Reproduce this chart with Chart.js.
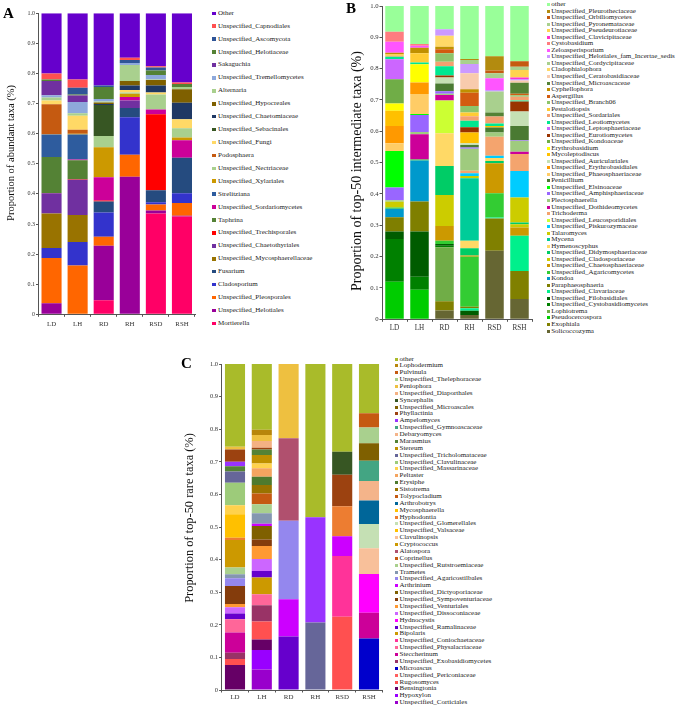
<!DOCTYPE html>
<html>
<head>
<meta charset="utf-8">
<title>Fungal taxa composition</title>
<script src="https://cdn.jsdelivr.net/npm/chart.js@4.4.1/dist/chart.umd.min.js"></script>
<style>
  body { margin: 0; width: 676px; height: 708px; position: relative; overflow: hidden; background: #fff;
         font-family: "Liberation Serif", "Times New Roman", serif; }
  canvas { position: absolute; }
  .panel-label { position: absolute; font-weight: bold; font-size: 15px; line-height: 1; color: #000; }
  .axis-title { position: absolute; white-space: nowrap; line-height: 1; color: #111;
                transform: translate(-50%, -50%) rotate(-90deg); }
  .legend-row { position: absolute; display: flex; align-items: center; white-space: nowrap; color: #222; }
  .legend-row span.box { display: inline-block; flex: none; }
  .legend-row span.txt { line-height: 1; }
</style>
</head>
<body>
<script>
// Samples (x categories), shared by all three panels
const samples = ["LD", "LH", "RD", "RH", "RSD", "RSH"];

// ---- Panel A: abundant taxa (listed bottom of stack -> top) ----
const abundantTaxa = ["Mortierella", "Unspecified_Helotiales", "Unspecified_Pleosporales", "Cladosporium", "Fusarium",
    "Unspecified_Mycosphaerellaceae", "Unspecified_Chaetothyriales", "Unspecified_Trechisporales", "Taphrina",
    "Unspecified_Sordariomycetes", "Strelitziana", "Unspecified_Xylariales", "Unspecified_Nectriaceae", "Podosphaera",
    "Unspecified_Fungi", "Unspecified_Sebacinales", "Unspecified_Chaetomiaceae", "Unspecified_Hypocreales", "Alternaria",
    "Unspecified_Tremellomycetes", "Sakaguchia", "Unspecified_Helotiaceae", "Unspecified_Ascomycota",
    "Unspecified_Capnodiales", "Other"];
const abundantColors = ["#FF0066", "#990099", "#FF6600", "#3333CC", "#254B7F", "#997300", "#7030A0", "#FF0000", "#548235",
    "#CC0099", "#2E5C9E", "#CC9900", "#A9D08E", "#C55A11", "#FFD966", "#375623", "#1F3864", "#7F6000", "#A9D08E",
    "#8EA9DB", "#7030A0", "#548235", "#2F5597", "#FF5050", "#6600CC"];
const abundantLD = [0, 0.037, 0.150, 0.033, 0, 0.115, 0.067, 0.001, 0.120, 0, 0.074, 0.001, 0, 0.100, 0.012, 0, 0, 0, 0.010, 0.008, 0.047, 0.005, 0, 0.020, 0.200];
const abundantLH = [0, 0, 0.162, 0.078, 0, 0.090, 0.117, 0.002, 0.063, 0.002, 0.083, 0.003, 0, 0.013, 0.047, 0, 0, 0, 0.008, 0.037, 0.022, 0.003, 0.023, 0.027, 0.220];
const abundantRD = [0.047, 0.181, 0.030, 0.080, 0.037, 0, 0, 0.003, 0, 0.077, 0, 0.100, 0.037, 0, 0, 0.103, 0.004, 0.005, 0.003, 0.008, 0, 0.040, 0.005, 0, 0.240];
const abundantRH = [0, 0.457, 0.073, 0.125, 0.030, 0, 0.025, 0, 0, 0.012, 0, 0.011, 0.004, 0, 0.008, 0, 0.015, 0.015, 0.053, 0.007, 0, 0, 0.010, 0.007, 0.148];
const abundantRSD = [0.335, 0.010, 0.020, 0.007, 0.040, 0, 0, 0.253, 0, 0.015, 0, 0, 0.050, 0, 0.007, 0, 0.023, 0.018, 0.002, 0.015, 0, 0.015, 0.010, 0.004, 0.176];
const abundantRSH = [0.325, 0.002, 0.043, 0.032, 0.118, 0, 0, 0, 0, 0.058, 0, 0.009, 0.031, 0, 0.030, 0, 0.055, 0.045, 0.007, 0, 0, 0.010, 0, 0.005, 0.230];

// ---- Panel B: top-50 intermediate taxa (bottom -> top) ----
const intermediateTaxa = ["Solicoccozyma", "Exophiala", "Pseudocercospora", "Lophiotrema",
    "Unspecified_Cystobasidiomycetes", "Unspecified_Filobasidiales", "Unspecified_Clavariaceae", "Paraphaeosphaeria",
    "Kondoa", "Unspecified_Agaricomycetes", "Unspecified_Chaetosphaeriaceae", "Unspecified_Cladosporiaceae",
    "Unspecified_Didymosphaeriaceae", "Hymenoscyphus", "Mycena", "Talaromyces", "Unspecified_Piskurozymaceae",
    "Unspecified_Leucosporidiales", "Trichoderma", "Unspecified_Dothideomycetes", "Plectosphaerella",
    "Unspecified_Amphisphaeriaceae", "Unspecified_Elsinoaceae", "Penicillium", "Unspecified_Phaeosphaeriaceae",
    "Unspecified_Erythrobasidiales", "Unspecified_Auriculariales", "Mycoleptodiscus", "Erythrobasidium",
    "Unspecified_Kondoaceae", "Unspecified_Eurotiomycetes", "Unspecified_Leptosphaeriaceae", "Unspecified_Leotiomycetes",
    "Unspecified_Sordariales", "Pestalotiopsis", "Unspecified_Branch06", "Aspergillus", "Cyphellophora",
    "Unspecified_Microascaceae", "Unspecified_Ceratobasidiaceae", "Cladophialophora", "Unspecified_Cordycipitaceae",
    "Unspecified_Helotiales_fam_Incertae_sedis", "Zeloasperisporium", "Cystobasidium", "Unspecified_Clavicipitaceae",
    "Unspecified_Pseudeurotiaceae", "Unspecified_Pyronemataceae", "Unspecified_Orbiliomycetes",
    "Unspecified_Pleurotheciaceae", "other"];
const intermediateColors = ["#666633", "#808000", "#00CC00", "#70AD47", "#008000", "#005C00", "#00F08C", "#7F7F00",
    "#0099CC", "#33CC33", "#CC9900", "#CCCC00", "#00CC66", "#FFD966", "#00CC99", "#CCCC00", "#00CCFF", "#CCFF33",
    "#F4A46E", "#CC0099", "#9FCB7E", "#9966FF", "#00FF00", "#4A7A32", "#FFCC66", "#FF9900", "#C5E0B4", "#FFC000",
    "#FFFF00", "#70AD47", "#993300", "#CC66FF", "#00E890", "#F4A070", "#FFCC33", "#8DC46A", "#D35C10", "#C09000",
    "#548235", "#F8CBAD", "#FFD966", "#A9D08E", "#CC99FF", "#FF55FF", "#FF7C80", "#FF33CC", "#FFD34D", "#A9D08E",
    "#C55A11", "#B38B0F", "#99FF99"];
const intermediateLD = [0, 0, 0.120, 0, 0.136, 0.024, 0, 0.046, 0.027, 0.004, 0, 0, 0, 0, 0, 0.018, 0, 0, 0, 0, 0.005,
    0.041, 0.116, 0, 0.025, 0.055, 0, 0.049, 0.023, 0.077, 0, 0.064, 0.008, 0.003, 0.005, 0, 0, 0.005, 0, 0, 0, 0, 0,
    0.035, 0.032, 0, 0, 0, 0, 0, 0.082];
const intermediateLH = [0, 0, 0.094, 0, 0.042, 0.144, 0, 0.096, 0.131, 0.003, 0, 0, 0, 0, 0, 0, 0, 0, 0, 0.081, 0.007,
    0.054, 0.003, 0, 0.064, 0.037, 0, 0, 0.058, 0, 0, 0, 0.006, 0, 0.029, 0, 0, 0.018, 0, 0, 0, 0, 0,
    0.006, 0.006, 0, 0, 0, 0, 0, 0.121];
const intermediateRD = [0.028, 0.030, 0, 0.172, 0.005, 0.005, 0, 0, 0, 0.011, 0.047, 0.099, 0.092, 0.105, 0, 0, 0, 0.104,
    0, 0.018, 0.004, 0.008, 0, 0.025, 0, 0, 0.019, 0, 0, 0, 0.006, 0, 0.030, 0.014, 0, 0.027, 0.013, 0.008, 0, 0, 0.035,
    0, 0.021, 0, 0, 0, 0, 0, 0, 0, 0.074];
const intermediateRH = [0.014, 0, 0, 0, 0, 0.013, 0.008, 0.005, 0, 0.160, 0.004, 0, 0.023, 0.024, 0.199, 0.007, 0.009, 0,
    0.008, 0, 0.070, 0.004, 0, 0.008, 0, 0, 0.006, 0.034, 0, 0, 0.017, 0, 0.021, 0.014, 0.012, 0.021, 0.042, 0.011, 0,
    0.051, 0, 0, 0.030, 0, 0, 0, 0, 0.013, 0, 0.003, 0.169];
const intermediateRSD = [0.219, 0.103, 0, 0, 0, 0, 0.003, 0, 0, 0.077, 0.096, 0, 0.007, 0.010, 0, 0, 0.007, 0, 0.061, 0,
    0.013, 0, 0, 0.016, 0, 0, 0, 0.005, 0, 0, 0, 0, 0.008, 0.022, 0, 0, 0, 0, 0.013, 0, 0, 0.067, 0.005, 0.037, 0, 0, 0,
    0.016, 0.009, 0.046, 0.160];
const intermediateRSH = [0.065, 0.089, 0, 0, 0, 0, 0.113, 0, 0, 0, 0.026, 0.010, 0.006, 0, 0, 0.080, 0.084, 0, 0.055,
    0.007, 0.035, 0.002, 0, 0.045, 0, 0, 0.046, 0, 0, 0, 0.032, 0, 0.003, 0.012, 0, 0.005, 0.005, 0, 0.035, 0.007, 0, 0,
    0.005, 0, 0, 0.005, 0.024, 0.010, 0.018, 0, 0.176];

// ---- Panel C: top-50 rare taxa (bottom -> top) ----
const rareTaxa = ["Unspecified_Corticiales", "Hypoxylon", "Bensingtonia", "Rugosomyces", "Unspecified_Periconiaceae",
    "Microascus", "Unspecified_Exobasidiomycetes", "Steccherinum", "Unspecified_Physalacriaceae",
    "Unspecified_Coniochaetaceae", "Bipolaris", "Unspecified_Ramalinaceae", "Hydnocystis", "Unspecified_Dissoconiaceae",
    "Unspecified_Venturiales", "Unspecified_Sympoventuriaceae", "Unspecified_Dictyoporiaceae", "Arthrinium",
    "Unspecified_Agaricostilbales", "Trametes", "Unspecified_Rutstroemiaceae", "Coprinellus", "Alatospora",
    "Cryptococcus", "Clavulinopsis", "Unspecified_Valsaceae", "Unspecified_Glomerellales", "Hyphodontia",
    "Mycosphaerella", "Arthrobotrys", "Tolypocladium", "Sistotrema", "Erysiphe", "Peltaster",
    "Unspecified_Massarinaceae", "Unspecified_Clavulinaceae", "Unspecified_Tricholomataceae", "Stereum", "Marasmius",
    "Debaryomyces", "Unspecified_Gymnoascaceae", "Ampelomyces", "Phyllactinia", "Unspecified_Microascales",
    "Syncephalis", "Unspecified_Diaporthales", "Peniophora", "Unspecified_Thelephoraceae", "Pulvinula",
    "Lophodermium", "other"];
const rareColors = ["#9900CC", "#9900FF", "#660066", "#FF5050", "#FF6060", "#0000CC", "#993366", "#CC0099", "#FF6699",
    "#FF3399", "#CC9900", "#6600CC", "#FF00FF", "#CC66FF", "#FF9933", "#843C0C", "#7F6000", "#CC00FF", "#9487EE",
    "#8497B0", "#A9D08E", "#C55A11", "#B0506E", "#CC9900", "#F8C09A", "#FFC000", "#C5E0B4", "#ED7D31", "#FFC000",
    "#006699", "#C55A11", "#997300", "#4E7A2E", "#F4A460", "#FFD24D", "#9DCB7A", "#666699", "#BF9000", "#548235",
    "#F4B48A", "#43A583", "#9933FF", "#9C4210", "#7F6000", "#375623", "#F4B183", "#EEC040", "#A9D08E", "#C55A11",
    "#B8860B", "#A9BB2A"];
const rareLD = [0, 0, 0.077, 0.018, 0, 0, 0.019, 0.062, 0.041, 0, 0, 0.018, 0, 0.019, 0.010, 0.055, 0, 0, 0.024, 0.012,
    0.021, 0, 0, 0.084, 0, 0, 0, 0.007, 0.072, 0, 0, 0, 0, 0, 0.028, 0.069, 0.034, 0, 0.016, 0, 0, 0.014, 0.038, 0, 0,
    0, 0.008, 0, 0, 0, 0.254];
const rareLH = [0.063, 0.060, 0.032, 0.055, 0, 0, 0.050, 0, 0.034, 0, 0.051, 0.020, 0, 0.037, 0.040, 0.020, 0.041,
    0.007, 0, 0.032, 0.028, 0.033, 0, 0, 0, 0, 0, 0, 0, 0, 0, 0.026, 0.025, 0.026, 0.015, 0, 0, 0.026, 0.017, 0, 0, 0,
    0.005, 0, 0, 0.021, 0.018, 0, 0, 0.016, 0.202];
const rareRD = [0, 0, 0, 0, 0, 0, 0, 0, 0, 0, 0, 0.164, 0, 0, 0, 0, 0, 0.114, 0.241, 0, 0, 0, 0.253, 0, 0, 0, 0, 0, 0,
    0, 0, 0, 0, 0, 0, 0, 0, 0, 0, 0, 0, 0, 0, 0, 0, 0, 0.228, 0, 0, 0, 0];
const rareRH = [0, 0, 0, 0, 0, 0, 0, 0, 0, 0, 0, 0, 0, 0, 0, 0, 0, 0, 0, 0, 0, 0, 0, 0, 0, 0, 0, 0, 0, 0, 0, 0, 0, 0,
    0, 0, 0.207, 0, 0, 0, 0, 0.323, 0, 0, 0, 0, 0, 0, 0, 0, 0.470];
const rareRSD = [0, 0, 0, 0.225, 0, 0, 0, 0, 0, 0.186, 0, 0, 0, 0, 0, 0, 0, 0.061, 0, 0, 0, 0, 0, 0, 0, 0, 0, 0.092, 0,
    0, 0, 0, 0, 0, 0, 0, 0, 0, 0, 0, 0, 0, 0.096, 0, 0.071, 0, 0, 0, 0, 0, 0.269];
const rareRSH = [0, 0, 0, 0, 0, 0.158, 0, 0.079, 0, 0, 0, 0, 0.119, 0, 0, 0, 0, 0, 0, 0, 0, 0, 0, 0, 0.079, 0, 0.074,
    0, 0, 0.072, 0, 0, 0, 0, 0, 0, 0, 0, 0, 0.060, 0.062, 0, 0, 0.054, 0, 0, 0, 0.048, 0.044, 0, 0.151];

const fontFamily = '"Liberation Serif", "Times New Roman", serif';
const axisColor = "#555";

// Panel geometry (canvas box, plot area inside it, axis title centre, legend placement)
const panels = [
    { label: "A", labelX: 3, labelY: 6, x: 0, y: 0, w: 198, h: 335, left: 38.5, right: 195, top: 13.3, bottom: 314.3,
      title: "Proportion of abundant taxa (%)", titleSize: 10.5, titleX: 11, titleY: 153, tickSize: 6, catSize: 6.8, catPad: 3,
      barPct: 0.77, taxa: abundantTaxa, colors: abundantColors,
      values: [abundantLD, abundantLH, abundantRD, abundantRH, abundantRSD, abundantRSH],
      legend: { x: 212, y: 13.3, step: 12.92, box: 3.6, gap: 2.4, font: 7 } },
    { label: "B", labelX: 346, labelY: 1, x: 340, y: 0, w: 195, h: 335, left: 42, right: 192, top: 6, bottom: 319.3,
      title: "Proportion of top-50 intermediate taxa (%)", titleSize: 14, titleX: 356.5, titleY: 171, tickSize: 6.7, catSize: 7.2, catPad: 2,
      barPct: 0.74, taxa: intermediateTaxa, colors: intermediateColors,
      values: [intermediateLD, intermediateLH, intermediateRD, intermediateRH, intermediateRSD, intermediateRSH],
      legend: { x: 547, y: 4.7, step: 6.526, box: 3, gap: 1.2, font: 7 } },
    { label: "C", labelX: 181, labelY: 356, x: 160, y: 355, w: 226, h: 350, left: 61.6, right: 222.4, top: 9, bottom: 335,
      title: "Proportion of top-50 rare taxa (%)", titleSize: 12.4, titleX: 188.5, titleY: 518, tickSize: 6.5, catSize: 6.9, catPad: 1,
      barPct: 0.75, taxa: rareTaxa, colors: rareColors,
      values: [rareLD, rareLH, rareRD, rareRH, rareRSD, rareRSH],
      legend: { x: 395, y: 359, step: 6.874, box: 3, gap: 1.5, font: 7 } }
];

// Build one stacked bar chart per panel
function drawPanel(p) {
    const canvas = document.createElement("canvas");
    canvas.width = p.w;
    canvas.height = p.h;
    canvas.style.left = p.x + "px";
    canvas.style.top = p.y + "px";
    document.body.appendChild(canvas);

    const datasets = p.taxa.map((name, i) => ({
        label: name,
        data: p.values.map(sample => sample[i]),
        backgroundColor: p.colors[i],
        borderWidth: 0,
        categoryPercentage: 1,
        barPercentage: p.barPct
    }));

    const chart = new Chart(canvas.getContext("2d"), {
        type: "bar",
        data: { labels: samples, datasets: datasets },
        options: {
            responsive: false,
            animation: false,
            devicePixelRatio: 1,
            layout: { padding: { left: 0, top: p.top, right: p.w - p.right, bottom: 0 } },
            plugins: { legend: { display: false }, tooltip: { enabled: false } },
            scales: {
                x: {
                    stacked: true,
                    grid: { offset: true, drawOnChartArea: false, tickLength: 2.5, color: axisColor },
                    border: { color: axisColor },
                    ticks: { font: { family: fontFamily, size: p.catSize }, color: "#333", padding: p.catPad, maxRotation: 0 },
                    afterFit: scale => { scale.height = p.h - p.bottom; }
                },
                y: {
                    stacked: true,
                    min: 0,
                    max: 1,
                    ticks: { stepSize: 0.1, font: { family: fontFamily, size: p.tickSize }, color: "#333", padding: 1 },
                    grid: { drawOnChartArea: false, tickLength: 2.5, color: axisColor },
                    border: { color: axisColor },
                    afterFit: scale => { scale.width = p.left; }
                }
            }
        }
    });

    // Panel letter
    const letter = document.createElement("div");
    letter.className = "panel-label";
    letter.style.left = p.labelX + "px";
    letter.style.top = p.labelY + "px";
    letter.textContent = p.label;
    document.body.appendChild(letter);

    // Y axis title (placed by hand, it is not centred on the axis in the original)
    const title = document.createElement("div");
    title.className = "axis-title";
    title.style.left = p.titleX + "px";
    title.style.top = p.titleY + "px";
    title.style.fontSize = p.titleSize + "px";
    title.textContent = p.title;
    document.body.appendChild(title);

    drawLegend(chart, p.legend);
}

// HTML legend, top of stack first (like the original figure)
function drawLegend(chart, lg) {
    const items = chart.options.plugins.legend.labels.generateLabels(chart).reverse();
    items.forEach((item, i) => {
        const row = document.createElement("div");
        row.className = "legend-row";
        row.style.left = lg.x + "px";
        row.style.top = (lg.y + i * lg.step - 5) + "px";
        row.style.height = "10px";
        row.style.fontSize = lg.font + "px";

        const box = document.createElement("span");
        box.className = "box";
        box.style.width = lg.box + "px";
        box.style.height = lg.box + "px";
        box.style.marginRight = lg.gap + "px";
        box.style.background = item.fillStyle;

        const txt = document.createElement("span");
        txt.className = "txt";
        txt.textContent = item.text;

        row.appendChild(box);
        row.appendChild(txt);
        document.body.appendChild(row);
    });
}

panels.forEach(drawPanel);
</script>
</body>
</html>
